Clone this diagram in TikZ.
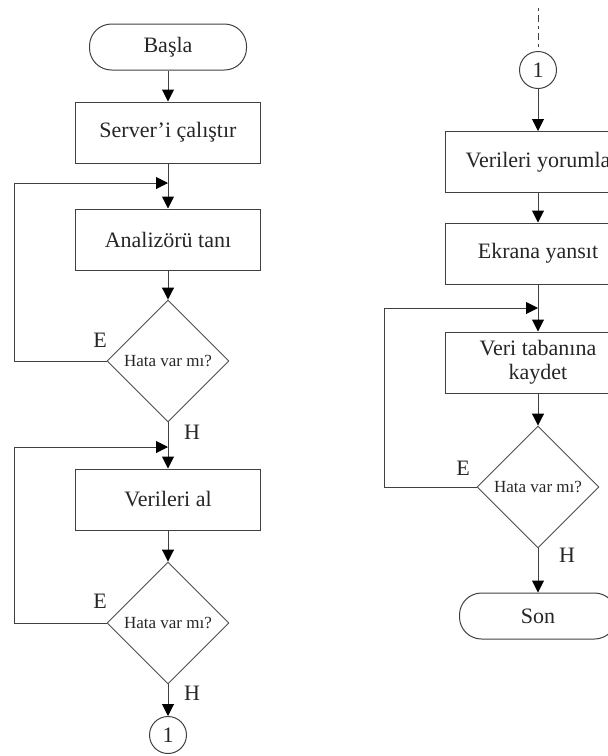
\documentclass[tikz,border=0pt]{standalone}
\usepackage{fontspec}
\setmainfont{Liberation Serif}
\usetikzlibrary{shapes.geometric,arrows.meta,positioning}

\begin{document}
\begin{tikzpicture}[
  x=1pt,y=-1pt,
  >={Triangle[length=12pt,width=12pt,color=black]},
  every node/.style={font=\fontsize{22}{24}\selectfont,text=black!85},
  term/.style={draw=black!75,line width=1pt,rounded corners=22pt,minimum width=157pt,minimum height=46pt},
  proc/.style={draw=black!75,line width=1pt,minimum width=185pt,minimum height=61pt,align=center},
  decision/.style={draw=black!70,line width=0.9pt,diamond,aspect=1,minimum width=122pt,minimum height=122pt,inner sep=0pt,font=\fontsize{17}{20}\selectfont},
  conn/.style={draw=black!75,line width=1pt,circle,minimum size=37pt,inner sep=0pt},
  lbl/.style={inner sep=0pt},
  flow/.style={->,draw=black!75,line width=1pt},
]
\useasboundingbox (0,0) rectangle (608,756);
\clip (0,0) rectangle (608,756);

% left column
\node[term] (basla) at (168,47) {Başla};
\node[proc] (server) at (168,132.5) {Server'i çalıştır};
\node[proc] (analiz) at (168,239.5) {Analizörü tanı};
\node[decision] (hata1) at (168,361) {Hata var mı?};
\node[proc] (veri) at (168,499.5) {Verileri al};
\node[decision] (hata2) at (168,623) {Hata var mı?};
\node[conn] (con1) at (168,735) {1};

% right column
\node[conn] (con2) at (538,70) {1};
\node[proc] (yorum) at (538,162) {Verileri yorumla};
\node[proc] (ekran) at (538,253.5) {Ekrana yansıt};
\node[proc] (kayit) at (538,362.5) {Veri tabanına\\kaydet};
\node[decision] (hata3) at (538,487) {Hata var mı?};
\node[term] (son) at (538,616) {Son};

% yes / no labels
\node[lbl] (e1) at (100,340) {E};
\node[lbl] (e2) at (100,601) {E};
\node[lbl] (e3) at (463,468) {E};
\node[lbl] (h1) at (192,432) {H};
\node[lbl] (h2) at (192,693) {H};
\node[lbl] (h3) at (567,555) {H};

\coordinate (top) at (538,8);
\coordinate (join1) at (168,183);
\coordinate (back1) at (14,183);
\coordinate (join2) at (168,447);
\coordinate (back2) at (14,447);
\coordinate (join3) at (538,308);
\coordinate (back3) at (384,308);

\draw[flow] (basla) -- (server);
\draw[flow] (server) -- (analiz);
\draw[flow] (analiz) -- (hata1);
\draw[flow] (hata1) -- (veri);
\draw[flow] (veri) -- (hata2);
\draw[flow] (hata2) -- (con1);
\draw[flow] (hata1.west) -| (back1) -- (join1);
\draw[flow] (hata2.west) -| (back2) -- (join2);

\draw[draw=black!75,line width=1pt,dash pattern=on 3pt off 4pt on 7pt off 4pt] (top) -- (con2);
\draw[flow] (con2) -- (yorum);
\draw[flow] (yorum) -- (ekran);
\draw[flow] (ekran) -- (kayit);
\draw[flow] (kayit) -- (hata3);
\draw[flow] (hata3) -- (son);
\draw[flow] (hata3.west) -| (back3) -- (join3);
\end{tikzpicture}
\end{document}
